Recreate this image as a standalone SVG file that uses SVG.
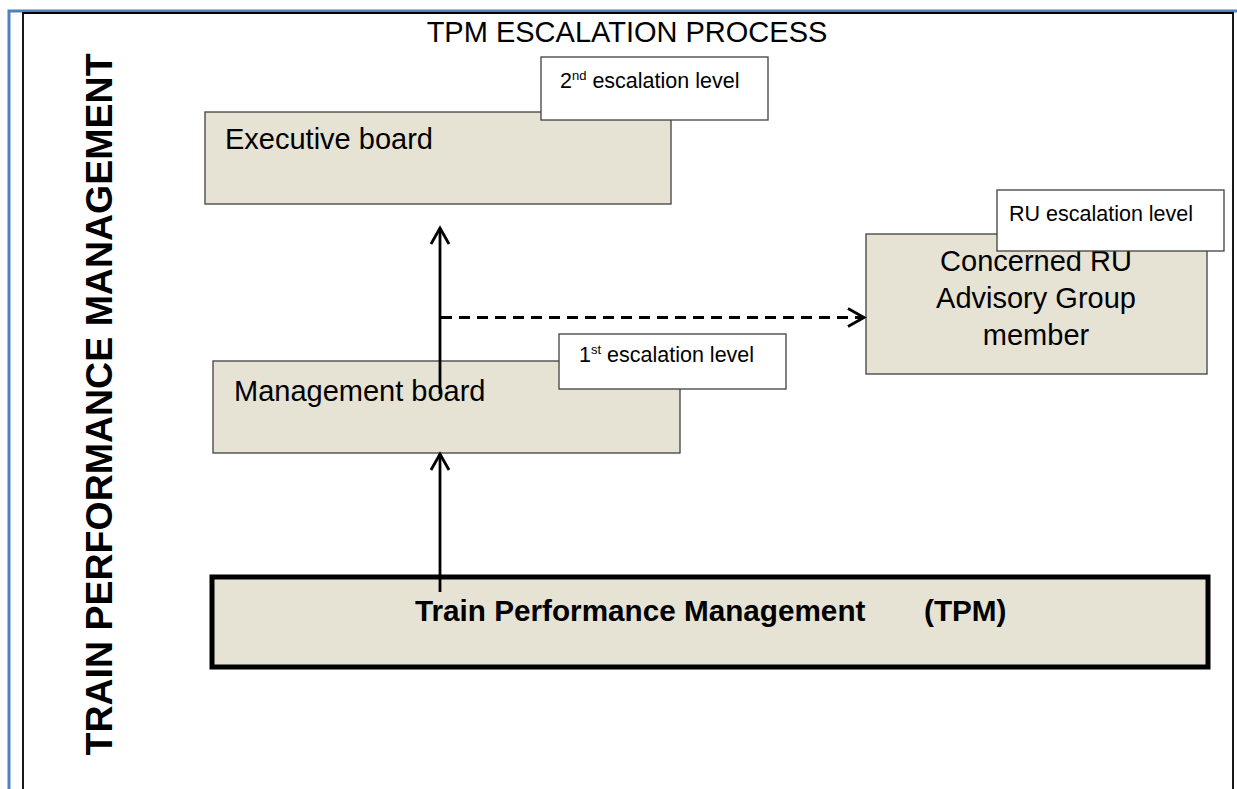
<svg xmlns="http://www.w3.org/2000/svg" width="1237" height="789" viewBox="0 0 1237 789">
<style>
.t{font-family:"Liberation Sans",Arial,sans-serif;fill:#000}
.big{font-size:29px}
.lbl{font-size:21.5px}
.sup{font-size:13px}
.box{fill:#E6E2D4;stroke:#404040;stroke-width:1.3}
.tag{fill:#fff;stroke:#404040;stroke-width:1.3}
.conn{stroke:#000;stroke-width:2.8;fill:none}
</style>
<defs>
<marker id="chev" viewBox="-19 -12 22 24" refX="0" refY="0" markerWidth="22" markerHeight="24" markerUnits="userSpaceOnUse" orient="auto">
<path d="M-16,-9 L0,0 L-16,9" fill="none" stroke="#000" stroke-width="2.8"/>
</marker>
</defs>
<g id="frame">
<path d="M9,789 V11 H1237" fill="none" stroke="#4F81BD" stroke-width="3"/>
<path d="M23,789 V13 H1233 V789" fill="none" stroke="#000" stroke-width="1.8"/>
</g>
<g id="title"><text class="t big" x="627" y="42" text-anchor="middle">TPM ESCALATION PROCESS</text></g>
<g id="side-label"><text class="t" font-weight="bold" font-size="37.5" transform="translate(112,404.5) rotate(-90)" text-anchor="middle">TRAIN PERFORMANCE MANAGEMENT</text></g>
<g id="executive-board">
<rect class="box" x="205" y="112" width="466" height="92"/>
<text class="t big" x="225" y="149">Executive board</text>
</g>
<g id="second-level">
<rect class="tag" x="541" y="57" width="227" height="63"/>
<text class="t lbl" x="560" y="88">2<tspan class="sup" dy="-8">nd</tspan><tspan dy="8"> escalation level</tspan></text>
</g>
<g id="concerned-ru">
<rect class="box" x="866" y="234" width="341" height="140"/>
<text class="t big" text-anchor="middle"><tspan x="1036" y="271">Concerned RU</tspan><tspan x="1036" y="308">Advisory Group</tspan><tspan x="1036" y="345">member</tspan></text>
</g>
<g id="ru-level">
<rect class="tag" x="997" y="190" width="227" height="61"/>
<text class="t lbl" x="1009" y="221">RU escalation level</text>
</g>
<g id="management-board">
<rect class="box" x="213" y="361" width="467" height="92"/>
<text class="t big" x="234" y="401">Management board</text>
</g>
<g id="first-level">
<rect class="tag" x="559" y="334" width="227" height="55"/>
<text class="t lbl" x="579" y="362">1<tspan class="sup" dy="-8">st</tspan><tspan dy="8"> escalation level</tspan></text>
</g>
<g id="tpm">
<rect x="212" y="577" width="996" height="90" fill="#E6E2D4" stroke="#000" stroke-width="5"/>
<text class="t" font-size="29.7" font-weight="bold" x="415" y="621">Train Performance Management<tspan x="924">(TPM)</tspan></text>
</g>
<g id="connectors">
<line class="conn" x1="440" y1="394" x2="440" y2="228" marker-end="url(#chev)"/>
<line class="conn" x1="441" y1="317.5" x2="864" y2="317.5" stroke-dasharray="11,7" marker-end="url(#chev)"/>
<line class="conn" x1="440" y1="592" x2="440" y2="454" marker-end="url(#chev)"/>
</g>
</svg>
